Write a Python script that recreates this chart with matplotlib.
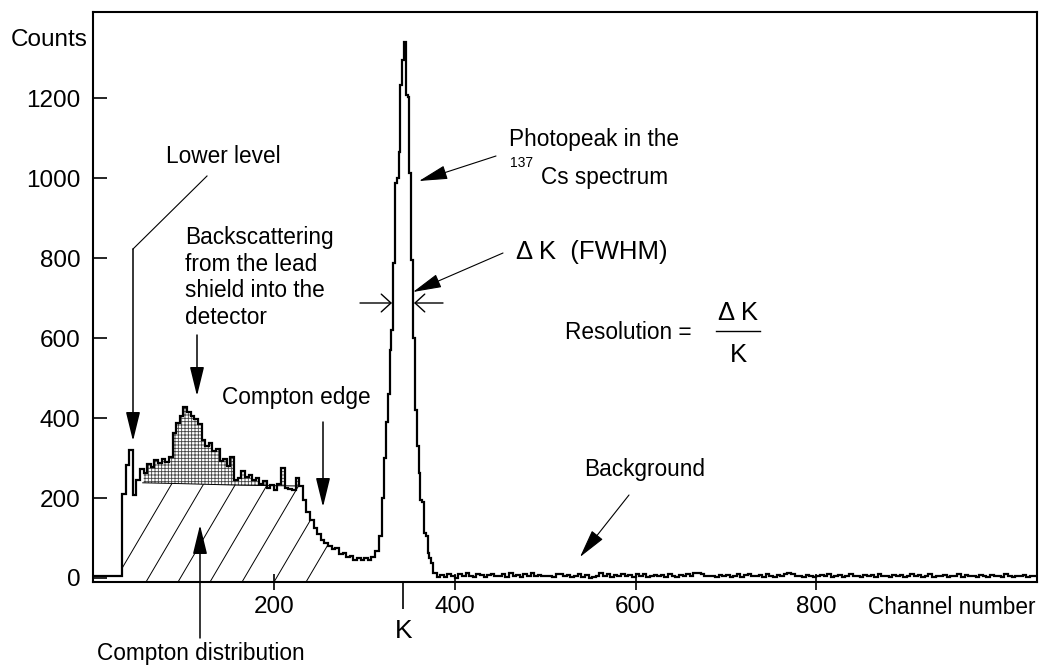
import numpy as np
import matplotlib
matplotlib.use("Agg")
import matplotlib.pyplot as plt
from matplotlib.patches import FancyArrowPatch
from matplotlib.lines import Line2D

# ---------------- data ----------------
# low-energy part of the spectrum (4-channel bins starting at channel 0)
low_start, low_width = 0, 4
compton_counts = [5, 5, 5, 5, 5, 5, 5, 5,
                  210, 282, 320, 207, 245, 272, 262, 285, 278, 295, 288, 298,
                  290, 302, 362, 387, 405, 427, 415, 405, 398, 385,
                  345, 330, 338, 318, 322, 292, 298, 280, 302, 245,
                  250, 268, 252, 258, 244, 250, 236, 242, 226, 232,
                  220, 235, 275, 225, 222, 220, 250, 230, 195, 165,
                  145, 125, 110, 95, 88, 80, 72, 74, 60, 62,
                  52, 56, 45, 50, 44, 50, 46, 52, 68, 105]
# photopeak (2-channel bins starting at channel 320)
peak_start, peak_width = 320, 2
peak_counts = [200, 300, 390, 460, 570, 620, 787, 987, 1000, 1065,
               1232, 1295, 1340, 1207, 1202, 1012, 795, 600, 420, 330,
               262, 195, 190, 112, 105, 62, 50, 37]
# background (4-channel bins starting at channel 376)
bg_start, bg_width = 376, 4
background_counts = [12,
                     2, 8, 3, 10, 4, 1, 9,
                     5, 12, 6, 3, 10, 8, 2, 7, 11, 4, 6,
                     9, 3, 12, 5, 8, 2, 10, 6, 13, 4, 7,
                     6, 6, 6, 3, 11, 9, 4, 8, 2, 5, 10,
                     3, 7, 1, 2, 4, 12, 6, 9, 3, 8, 5,
                     11, 4, 7, 2, 9, 6, 10, 3, 5, 8, 4,
                     7, 3, 9, 5, 2, 8, 6, 11, 4, 13, 12,
                     10, 6, 6, 5, 3, 7, 4, 8, 2, 6, 9,
                     3, 7, 10, 4, 5, 8, 2, 9, 6, 3, 7,
                     5, 9, 12, 10, 4, 6, 3, 8, 5, 2, 6,
                     7, 4, 9, 3, 6, 8, 2, 5, 10, 4, 6,
                     3, 8, 5, 7, 2, 9, 4, 6, 3, 7, 5,
                     8, 3, 6, 10, 4, 7, 2, 5, 9, 3, 6,
                     4, 8, 2, 6, 5, 9, 3, 7, 4, 6, 2,
                     7, 5, 3, 8, 4, 6, 2, 9, 5, 3, 6,
                     4, 7, 3, 5, 4]

# Compton continuum under the backscatter bump
continuum_channels = [32, 55, 96, 163, 229, 262]
continuum_counts = [225, 238, 236, 232, 230, 225]
backscatter_range = (55, 229)
compton_range = (32, 262)

y_ticks = [0, 200, 400, 600, 800, 1000, 1200]
x_ticks = [200, 400, 600, 800]
k_channel = 343

# ---------------- style ----------------
plt.rcParams["font.family"] = ["Liberation Sans", "DejaVu Sans"]
plt.rcParams["hatch.linewidth"] = 0.6
plt.rcParams["hatch.color"] = "#444444"

W, H = 1040, 665
fig = plt.figure(figsize=(W / 100, H / 100), dpi=100)
ax = fig.add_axes([93 / W, 1 - 582 / H, (1037 - 93) / W, (582 - 12) / H])
ax.set_xlim(0, 1044)
ax.set_ylim(-10, 1415)


def P(px, py):
    return (px / W, 1 - py / H)


# ---------------- spectrum ----------------
edges = np.concatenate([
    low_start + low_width * np.arange(len(compton_counts)),
    peak_start + peak_width * np.arange(len(peak_counts)),
    bg_start + bg_width * np.arange(len(background_counts) + 1),
]).astype(float)
values = np.array(compton_counts + peak_counts + background_counts, float)

xs = np.repeat(edges, 2)[1:-1]
ys = np.repeat(values, 2)
cont = np.interp(xs, continuum_channels, continuum_counts)

# backscatter (dotted) region
mask_b = (xs >= backscatter_range[0]) & (xs <= backscatter_range[1]) & (ys > cont)
ax.fill_between(xs, cont, ys, where=mask_b, facecolor="white",
                edgecolor="#444444", hatch="+++++", linewidth=0, zorder=1)
cm = (np.array(continuum_channels) >= 40)
ax.plot(np.array(continuum_channels)[cm][:-1], np.array(continuum_counts)[cm][:-1],
        color="k", lw=0.7, zorder=2)

# Compton distribution (diagonal hatching)
mask_c = (xs >= compton_range[0]) & (xs <= compton_range[1])
top = np.minimum(ys, cont)
poly = ax.fill_between(xs, -10, top, where=mask_c, facecolor="none",
                       linewidth=0, zorder=1)
clip = poly.get_paths()[0]
slope = 1.7 * 0.904 / 0.4
for c in np.arange(23.2, 300, 35.4):
    ln, = ax.plot([c, c + 1500 / slope], [-10, 1490], color="k", lw=0.7, zorder=1)
    ln.set_clip_path(clip, ax.transData)

ax.stairs(values, edges, baseline=None, color="k", lw=1.6, zorder=3)

# ---------------- axes ----------------
for s in ax.spines.values():
    s.set_linewidth(1.5)
ax.set_yticks(y_ticks)
ax.tick_params(axis="y", direction="in", length=10, width=1.2, labelsize=17.5, pad=9)
ax.set_xticks(x_ticks)
ax.tick_params(axis="x", which="major", direction="inout", length=12, width=1.2,
               labelsize=17.5, pad=4)
ax.set_xticks([k_channel], labels=["K"], minor=True)
ax.tick_params(axis="x", which="minor", direction="out", length=19.5, width=1.2,
               labelsize=19, pad=7)

fig.text(*P(49, 46), "Counts", ha="center", va="baseline", fontsize=17.5)
fig.text(*P(1035, 614), "Channel number", ha="right", va="baseline", fontsize=16.3)

# ---------------- annotations ----------------
FS = 16.3
fig.text(*P(223, 163), "Lower level", ha="center", va="baseline", fontsize=FS)
for i, line in enumerate(["Backscattering", "from the lead",
                          "shield into the", "detector"]):
    fig.text(*P(185, 244 + 26.6 * i), line, ha="left", va="baseline", fontsize=FS)
fig.text(*P(222, 404), "Compton edge", ha="left", va="baseline", fontsize=FS)
fig.text(*P(201, 660), "Compton distribution", ha="center", va="baseline", fontsize=FS)
fig.text(*P(509, 146), "Photopeak in the", ha="left", va="baseline", fontsize=FS)
fig.text(*P(510, 167), "137", ha="left", va="baseline", fontsize=10)
fig.text(*P(541, 184), "Cs spectrum", ha="left", va="baseline", fontsize=FS)
fig.text(*P(516, 259), "Δ K  (FWHM)", ha="left", va="baseline", fontsize=18.5)
fig.text(*P(565, 339), "Resolution =", ha="left", va="baseline", fontsize=FS)
fig.text(*P(738, 320), "Δ K", ha="center", va="baseline", fontsize=18.5)
fig.text(*P(738, 362), "K", ha="center", va="baseline", fontsize=18.5)
fig.add_artist(Line2D([716 / W, 760 / W], [1 - 331 / H, 1 - 331 / H], color="k", lw=1.0))
fig.text(*P(584, 476), "Background", ha="left", va="baseline", fontsize=FS)

filled = "-|>,head_length=0.9,head_width=0.22"
openh = "->,head_length=0.35,head_width=0.32"


def arrow(p0, p1, style=filled, lw=0.9):
    a = FancyArrowPatch(P(*p0), P(*p1), transform=fig.transFigure,
                        arrowstyle=style, mutation_scale=20, lw=lw,
                        color="k", shrinkA=0, shrinkB=0)
    fig.add_artist(a)


fig.add_artist(Line2D([207 / W, 133 / W], [1 - 176 / H, 1 - 249 / H], color="k", lw=0.8))
arrow((133, 249), (133, 441), lw=1.1)
arrow((197, 335), (197, 396), lw=1.1)
arrow((323, 422), (323, 507), lw=1.1)
arrow((200, 638), (200, 525), lw=1.1)
arrow((496, 156), (419, 181), lw=0.8)
arrow((503, 253), (413, 292), lw=0.8)
arrow((629, 495), (580, 557), lw=0.8)
arrow((360, 303), (392, 303), style=openh, lw=1.0)
arrow((443, 303), (414, 303), style=openh, lw=1.0)

fig.savefig("out.png", dpi=100)
